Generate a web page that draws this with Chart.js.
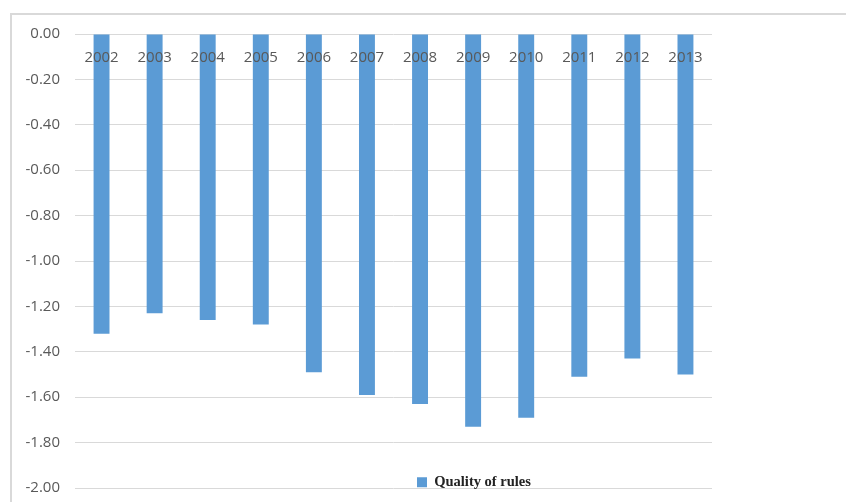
<!DOCTYPE html>
<html lang="en">
<head>
    <meta charset="UTF-8">
    <title>Quality of rules</title>
    <script src="https://cdn.jsdelivr.net/npm/chart.js"></script>
    <style>
        body { margin: 0; background: #fff; }
        #wrap { position: relative; width: 846px; height: 502px; overflow: hidden; }
        /* light frame of the original chart object */
        #frame { position: absolute; left: 10px; top: 13px; right: 0; bottom: 0;
                 border-top: 2px solid #d9d9d9; border-left: 2px solid #d9d9d9; }
        #chart { position: absolute; left: 0; top: 0; }
    </style>
</head>
<body>
    <div id="wrap">
        <div id="frame"></div>
        <canvas id="chart" width="846" height="502"></canvas>
    </div>
    <script>
        const years = ["2002", "2003", "2004", "2005", "2006", "2007", "2008", "2009", "2010", "2011", "2012", "2013"];
        const qualityOfRules = [-1.32, -1.23, -1.26, -1.28, -1.49, -1.59, -1.63, -1.73, -1.69, -1.51, -1.43, -1.50];
        const seriesName = "Quality of rules";
        const yMin = -2.0;
        const yMax = 0.0;
        const yStep = 0.2;

        // legend sits inside the plot area in the original, move it there after layout
        const legendPlacer = {
            id: 'legendPlacer',
            afterLayout(chart) {
                const lg = chart.legend;
                if (!lg) return;
                lg.left = 417; lg.right = 417 + 200;
                lg.top = 475; lg.bottom = 475 + 26;
                lg.width = 200; lg.height = 26;
            }
        };

        const ctx = document.getElementById("chart").getContext("2d");
        new Chart(ctx, {
            type: 'bar',
            data: {
                labels: years,
                datasets: [{
                    label: seriesName,
                    data: qualityOfRules,
                    backgroundColor: "#5b9bd5",
                    borderWidth: 0,
                    barPercentage: 0.3,
                    categoryPercentage: 1.0
                }]
            },
            options: {
                responsive: false,
                animation: false,
                events: [],
                layout: { padding: { left: 25, right: 134, top: 34, bottom: 13 } },
                plugins: {
                    tooltip: { enabled: false },
                    legend: {
                        position: 'bottom',
                        align: 'start',
                        maxHeight: 1,
                        labels: {
                            boxWidth: 10,
                            boxHeight: 10,
                            padding: 0,
                            color: "#222222",
                            font: { family: "'Liberation Serif', 'Times New Roman', serif", size: 14.5, weight: 'bold' }
                        }
                    }
                },
                scales: {
                    x: {
                        position: 'top',
                        grid: { display: false },
                        border: { display: false },
                        ticks: {
                            mirror: true,
                            padding: 15,
                            z: 1,
                            color: "#595959",
                            font: { family: "'Open Sans', sans-serif", size: 15 }
                        },
                        afterFit: s => { s.height = 0; }
                    },
                    y: {
                        min: yMin,
                        max: yMax,
                        border: { display: false },
                        grid: { color: "#d9d9d9", lineWidth: 1, drawTicks: false },
                        ticks: {
                            stepSize: yStep,
                            padding: 15,
                            color: "#595959",
                            font: { family: "'Open Sans', sans-serif", size: 15 },
                            callback: v => Number(v).toFixed(2)
                        },
                        afterFit: s => {
                            s.width = 50;
                            s.paddingTop = 0;
                            s.paddingBottom = 0;
                        }
                    }
                }
            },
            plugins: [legendPlacer]
        });
    </script>
</body>
</html>
